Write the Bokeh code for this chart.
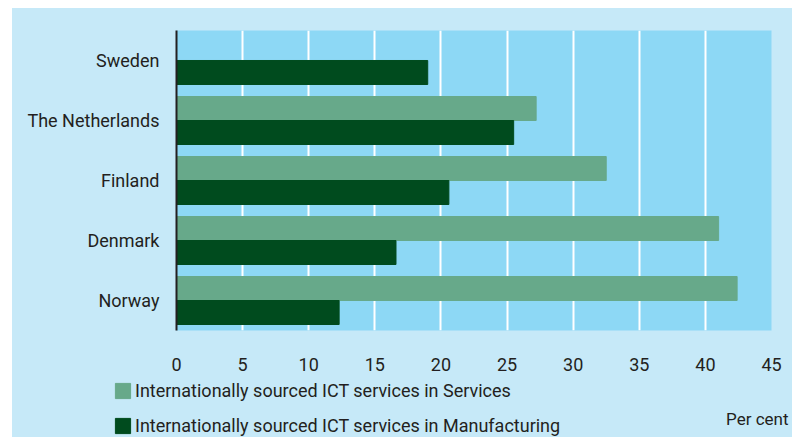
from bokeh.plotting import figure
from bokeh.models import (FactorRange, Range1d, FixedTicker, Legend, LegendItem,
                          Label, Spacer, ColumnDataSource)
from bokeh.transform import dodge
from bokeh.layouts import row, column
from bokeh.embed import file_html
from bokeh.resources import INLINE

countries = ["Sweden", "The Netherlands", "Finland", "Denmark", "Norway"]
services = [float("nan"), 27.2, 32.5, 41.0, 42.4]
manufacturing = [19.0, 25.5, 20.6, 16.6, 12.3]
x_ticks = [0, 5, 10, 15, 20, 25, 30, 35, 40, 45]
series_labels = ["Internationally sourced ICT services in Services",
                 "Internationally sourced ICT services in Manufacturing"]
unit_label = "Per cent"

FONT = "Roboto"
FS = "18px"
OUTER = "#C6E9F8"
INNER = "#8DD8F5"
SERV = "#67A98A"
MANU = "#004B1E"
TEXT = "#231F20"

src = ColumnDataSource(dict(country=countries, services=services,
                            manufacturing=manufacturing))

yr = FactorRange(*countries[::-1], range_padding=0, factor_padding=0)
p = figure(width=780, height=372, y_range=yr, x_range=Range1d(0, 45),
           output_backend="svg", toolbar_location=None,
           min_border_left=164, min_border_right=21,
           min_border_top=22, min_border_bottom=50,
           styles={"background-color": OUTER})
p.background_fill_color = INNER
p.border_fill_color = OUTER
p.outline_line_color = None

r1 = p.hbar(y=dodge("country", 0.2, range=p.y_range), left=0, right="services",
            height=0.4, source=src, fill_color=SERV, line_color=SERV)
r2 = p.hbar(y=dodge("country", -0.2, range=p.y_range), left=0, right="manufacturing",
            height=0.4, source=src, fill_color=MANU, line_color=MANU)

ticker = FixedTicker(ticks=x_ticks)
p.xaxis.ticker = ticker
p.xaxis.axis_line_color = None
p.xaxis.major_tick_line_color = None
p.xaxis.minor_tick_line_color = None
p.xaxis.major_tick_out = 0
p.xaxis.minor_tick_out = 0
p.xaxis.major_label_standoff = 27
p.xaxis.major_label_text_font = FONT
p.xaxis.major_label_text_font_size = FS
p.xaxis.major_label_text_color = TEXT

p.yaxis.axis_line_color = TEXT
p.yaxis.axis_line_width = 2
p.yaxis.major_tick_line_color = None
p.yaxis.minor_tick_line_color = None
p.yaxis.major_tick_out = 0
p.yaxis.minor_tick_out = 0
p.yaxis.major_label_standoff = 17
p.yaxis.major_label_text_font = FONT
p.yaxis.major_label_text_font_size = FS
p.yaxis.major_label_text_color = TEXT

p.ygrid.grid_line_color = None
p.xgrid.ticker = ticker
p.xgrid.grid_line_color = "white"
p.xgrid.grid_line_width = 2

# legend strip below the chart (separate root so its frame is not aligned)
p2 = figure(width=780, height=57, x_range=Range1d(0, 780), y_range=Range1d(0, 57),
            output_backend="svg", toolbar_location=None,
            min_border_left=0, min_border_right=0, min_border_top=0, min_border_bottom=0,
            styles={"background-color": OUTER})
p2.axis.visible = False
p2.grid.visible = False
p2.outline_line_color = None
p2.background_fill_color = OUTER
p2.border_fill_color = OUTER
key_src = ColumnDataSource(dict(y=[0], left=[0], right=[0]))
l1 = p2.hbar(y="y", left="left", right="right", height=0, source=key_src,
             fill_color=SERV, line_color=SERV)
l2 = p2.hbar(y="y", left="left", right="right", height=0, source=key_src,
             fill_color=MANU, line_color=MANU)

legend = Legend(items=[LegendItem(label=series_labels[0], renderers=[l1]),
                       LegendItem(label=series_labels[1], renderers=[l2])],
                location=(101, 1), orientation="vertical",
                background_fill_alpha=0, border_line_color=None,
                glyph_width=19, glyph_height=19, label_standoff=3,
                padding=0, margin=0, spacing=14, label_height=21,
                label_text_font=FONT, label_text_font_size=FS,
                label_text_color=TEXT)
p2.add_layout(legend)

p2.add_layout(Label(x=776, y=19, text=unit_label, text_align="right",
                    text_baseline="middle", text_font=FONT, text_font_size="17px",
                    text_color=TEXT))

root1 = column(Spacer(height=8), row(Spacer(width=12), p))
root2 = row(Spacer(width=12), p2)
open("out.html", "w").write(file_html([root1, root2], INLINE))
